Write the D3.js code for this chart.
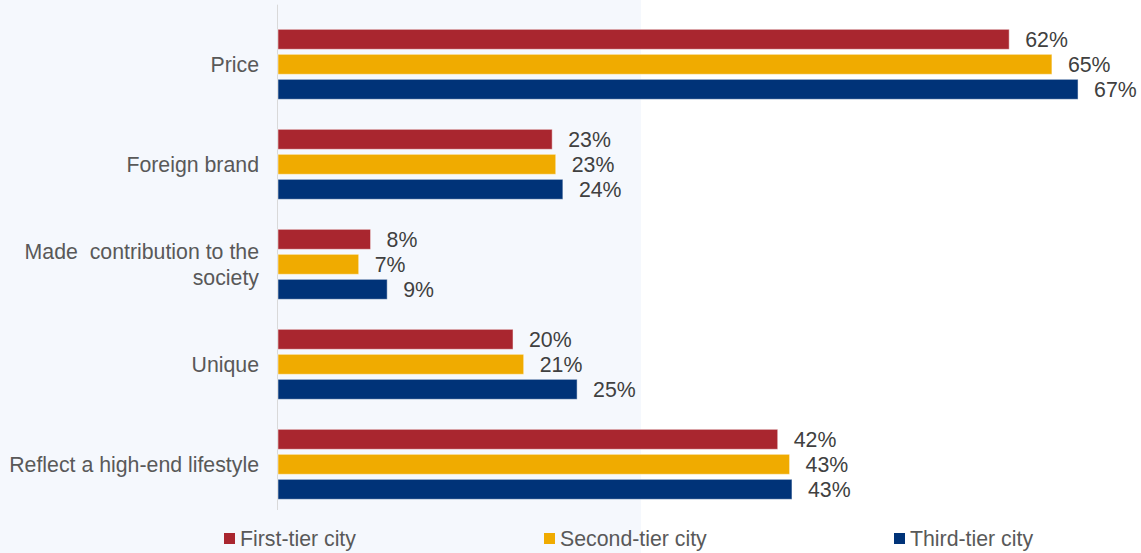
<!DOCTYPE html>
<html>
<head>
<meta charset="UTF-8" />
<title>Purchase factors by city tier</title>
<script src="https://d3js.org/d3.v7.min.js"></script>
<style>
body {
    margin: 0;
    background-color: white;
    font-family: "Liberation Sans", Arial, sans-serif;
}
</style>
</head>
<body>
<svg id="chart" width="1141" height="553"></svg>
<script>
// categories and series (percent)
var categories = ["Price", "Foreign brand", "Made  contribution to the\nsociety", "Unique", "Reflect a high-end lifestyle"];
var seriesNames = ["First-tier city", "Second-tier city", "Third-tier city"];
var firstTier  = [61.6, 23.1, 7.8, 19.8, 42.1];
var secondTier = [65.2, 23.4, 6.8, 20.7, 43.1];
var thirdTier  = [67.4, 24.0, 9.2, 25.2, 43.3];
var colors = ["#a9262f", "#f0ab00", "#003378"];

var svg = d3.select("#chart"),
    width = +svg.attr("width"),
    height = +svg.attr("height");

// light panel on the left
svg.append("rect").attr("x", 0).attr("y", 0).attr("width", 641).attr("height", height).attr("fill", "#f5f8fd");

var x = d3.scaleLinear().domain([0, 70]).range([278, 278 + 70 * 11.87]);
var y = d3.scaleBand().domain(categories).range([14.3, 514.3]);
var inner = d3.scaleBand().domain(seriesNames).range([15, 85]).paddingInner(0.2);

// axis line
svg.append("line")
    .attr("x1", 277.5).attr("x2", 277.5)
    .attr("y1", 4.7).attr("y2", 510)
    .attr("stroke", "#d9d9d9").attr("stroke-width", 1);

var series = [firstTier, secondTier, thirdTier];
var rows = [];
series.forEach(function(vals, s) {
    vals.forEach(function(v, i) {
        rows.push({cat: categories[i], name: seriesNames[s], s: s, value: v});
    });
});

var g = svg.append("g");
g.selectAll("rect").data(rows).enter().append("rect")
    .attr("x", x(0))
    .attr("y", function(d) { return y(d.cat) + inner(d.name); })
    .attr("width", function(d) { return x(d.value) - x(0); })
    .attr("height", inner.bandwidth())
    .attr("fill", function(d) { return colors[d.s]; })
    .attr("stroke", "#ffffff").attr("stroke-opacity", 0.5).attr("stroke-width", 1);

g.selectAll("text.val").data(rows).enter().append("text")
    .attr("class", "val")
    .attr("x", function(d) { return x(d.value) + 16; })
    .attr("y", function(d) { return y(d.cat) + inner(d.name) + inner.bandwidth() / 2; })
    .attr("dy", "0.35em")
    .attr("font-size", "21.3px")
    .attr("fill", "#404040")
    .text(function(d) { return Math.round(d.value) + "%"; });

// category labels
var labels = svg.append("g").selectAll("text").data(categories).enter().append("text")
    .attr("text-anchor", "end")
    .attr("font-size", "21.3px")
    .attr("fill", "#595959");
labels.each(function(d) {
    var lines = d.split("\n");
    var cy = y(d) + 50;
    var t = d3.select(this);
    lines.forEach(function(line, k) {
        t.append("tspan")
            .attr("x", 259)
            .attr("y", cy + (k - (lines.length - 1) / 2) * 26)
            .attr("dy", "0.35em")
            .attr("xml:space", "preserve")
            .text(line);
    });
});

// legend
var legendX = [224, 544, 894];
var legend = svg.append("g").selectAll("g").data(seriesNames).enter().append("g")
    .attr("transform", function(d, i) { return "translate(" + legendX[i] + ",533)"; });
legend.append("rect").attr("width", 11).attr("height", 11)
    .attr("fill", function(d, i) { return colors[i]; });
legend.append("text").attr("x", 16).attr("y", 5.5).attr("dy", "0.35em")
    .attr("font-size", "21.3px").attr("fill", "#595959")
    .text(function(d) { return d; });
</script>
</body>
</html>
